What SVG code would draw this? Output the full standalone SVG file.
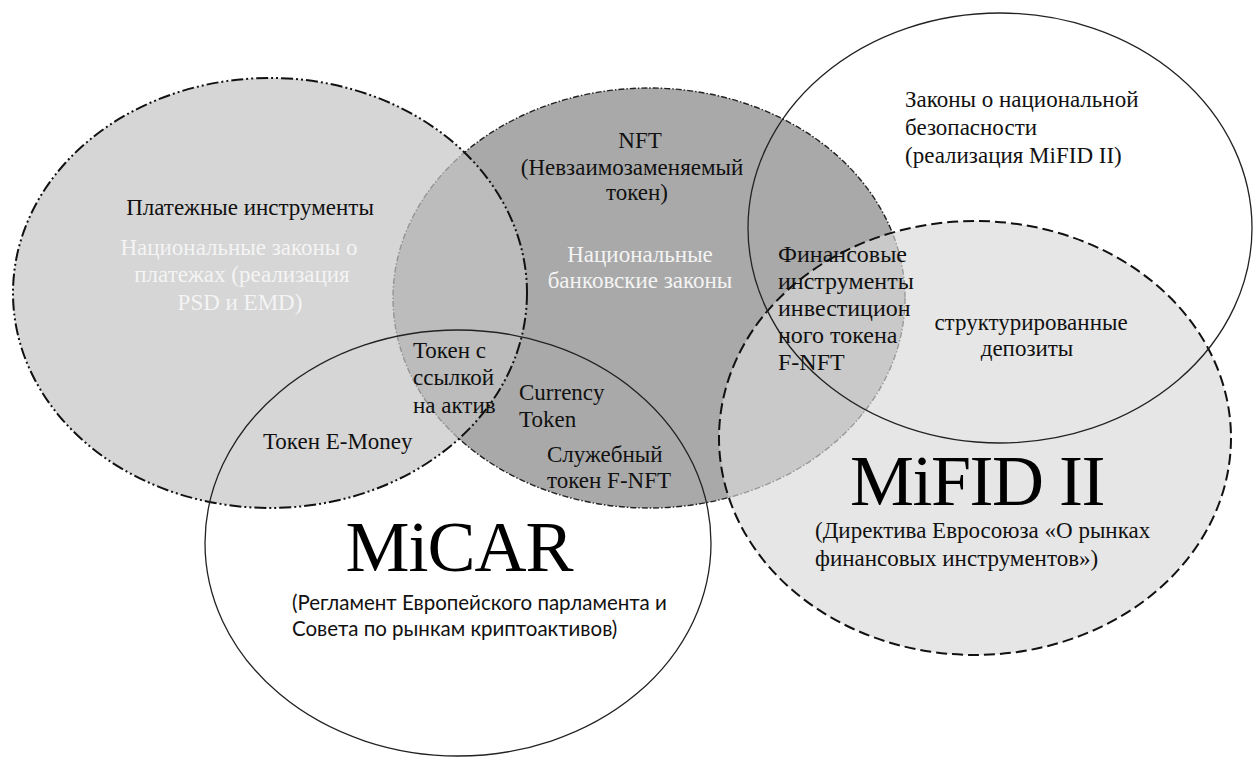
<svg xmlns="http://www.w3.org/2000/svg" width="1253" height="760" viewBox="0 0 1253 760">
<style>
  .t { font-family: "Liberation Serif", "Times New Roman", serif; font-size: 23px; fill: #111; }
  .w { fill: #f4f4f4; }
  .c { text-anchor: middle; }
  .f { font-size: 24px; }
  .big { font-family: "Liberation Serif", "Times New Roman", serif; font-size: 72px; fill: #000; text-anchor: middle; }
  .sans { font-family: Lato, "Liberation Sans", sans-serif; font-size: 20.5px; fill: #111; }
</style>
<rect width="1253" height="760" fill="#fff"/>
<g id="connectors"></g>
<g id="banking">
  <ellipse cx="649" cy="298" rx="256" ry="210" fill="#a9a9a9" stroke="#222" stroke-width="1.4" stroke-dasharray="6 2 1.5 2"/>
</g>
<g id="payments">
  <ellipse cx="270" cy="293" rx="257" ry="215" fill="#c4c4c4" fill-opacity="0.7" stroke="#111" stroke-width="2" stroke-dasharray="12 3 2 3 2 3"/>
</g>
<g id="mifid">
  <ellipse cx="975" cy="438" rx="256" ry="217" fill="#d9d9d9" fill-opacity="0.66" stroke="#111" stroke-width="2" stroke-dasharray="11 5"/>
</g>
<g id="micar">
  <ellipse cx="458" cy="543" rx="253" ry="213" fill="none" stroke="#222" stroke-width="1.3"/>
</g>
<g id="security">
  <ellipse cx="1000" cy="228" rx="252" ry="215" fill="none" stroke="#222" stroke-width="1.3"/>
</g>
<g id="labels-payments">
  <text class="t c" x="250" y="215">Платежные инструменты</text>
  <text class="t c w" x="239" y="255">Национальные законы о</text>
  <text class="t c w" x="242" y="282">платежах (реализация</text>
  <text class="t c w" x="240" y="310">PSD и EMD)</text>
  <text class="t" x="263" y="449">Токен E-Money</text>
</g>
<g id="labels-banking">
  <text class="t c" x="640" y="148">NFT</text>
  <text class="t c" x="632" y="175">(Невзаимозаменяемый</text>
  <text class="t c" x="637" y="200">токен)</text>
  <text class="t c w" x="640" y="262">Национальные</text>
  <text class="t c w" x="640" y="288">банковские законы</text>
  <text class="t" x="413" y="358">Токен с</text>
  <text class="t" x="413" y="385">ссылкой</text>
  <text class="t" x="413" y="413">на актив</text>
  <text class="t" x="519" y="400">Currency</text>
  <text class="t" x="519" y="427">Token</text>
  <text class="t" x="547" y="462">Служебный</text>
  <text class="t" x="547" y="488">токен F-NFT</text>
</g>
<g id="labels-security">
  <text class="t" x="905" y="107">Законы о национальной</text>
  <text class="t" x="905" y="135">безопасности</text>
  <text class="t" x="905" y="163">(реализация MiFID II)</text>
</g>
<g id="labels-fin">
  <text class="t f" x="778" y="262">Финансовые</text>
  <text class="t f" x="778" y="289">инструменты</text>
  <text class="t f" x="778" y="316">инвестицион</text>
  <text class="t f" x="778" y="343">ного токена</text>
  <text class="t f" x="778" y="370">F-NFT</text>
  <text class="t c" x="1031" y="330">структурированные</text>
  <text class="t c" x="1027" y="356">депозиты</text>
</g>
<g id="labels-mifid">
  <text class="big" x="977" y="505" letter-spacing="-1.5">MiFID II</text>
  <text class="t" x="815" y="538">(Директива Евросоюза «О рынках</text>
  <text class="t" x="815" y="566">финансовых инструментов»)</text>
</g>
<g id="labels-micar">
  <text class="big" x="459" y="571" font-size="71" letter-spacing="-1">MiCAR</text>
  <text class="sans" x="292" y="610">(Регламент Европейского парламента и</text>
  <text class="sans" x="292" y="636">Совета по рынкам криптоактивов)</text>
</g>
</svg>
